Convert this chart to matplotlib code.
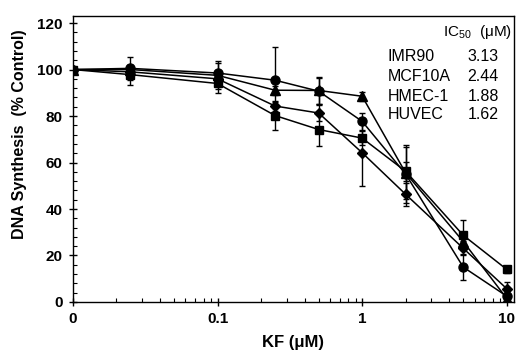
import matplotlib
matplotlib.use("Agg")
import matplotlib.pyplot as plt
from matplotlib.ticker import FixedLocator, NullFormatter, MultipleLocator

plt.rcParams['font.family'] = ['Liberation Sans', 'DejaVu Sans']
plt.rcParams['mathtext.fontset'] = 'custom'
plt.rcParams['mathtext.rm'] = 'Liberation Sans'

# KF concentration (uM); the control "0" is drawn at 0.01 on the log axis
kf = [0.01, 0.025, 0.1, 0.25, 0.5, 1, 2, 5, 10]

circle_y = [100, 100.5, 98.5, 95.4, 90.7, 77.7, 55.0, 15.0, 2.5]
circle_err = [0, 5.0, 4.5, 14.4, 5.7, 3.5, 12.5, 5.5, 1.0]
triangle_y = [100, 100.0, 97.5, 91.1, 91.0, 88.5, 55.5, 26.0, 1.5]
triangle_err = [0, 2.0, 6.0, 2.0, 5.7, 2.0, 11.0, 2.0, 1.0]
diamond_y = [100, 99.0, 96.0, 84.3, 81.3, 64.2, 46.3, 23.1, 5.7]
diamond_err = [0, 2.0, 2.0, 2.0, 3.6, 14.5, 5.0, 3.0, 3.0]
square_y = [100, 97.8, 94.0, 80.2, 74.2, 70.5, 56.2, 28.7, 14.0]
square_err = [0, 4.3, 4.0, 6.0, 7.0, 3.0, 4.0, 6.5, 1.5]

cell_lines = ['IMR90', 'MCF10A', 'HMEC-1', 'HUVEC']
ic50 = ['3.13', '2.44', '1.88', '1.62']

fig = plt.figure(figsize=(5.17, 3.53), dpi=100)
ax = fig.add_axes([0.141, 0.1445, 0.853, 0.81])

series = [
    (triangle_y, triangle_err, '^', 7),
    (circle_y, circle_err, 'o', 6.5),
    (diamond_y, diamond_err, 'D', 5.5),
    (square_y, square_err, 's', 6),
]
for y, e, m, ms in series:
    ax.errorbar(kf, y, yerr=e, fmt='-', marker=m, color='black', ms=ms,
                lw=1.1, elinewidth=1.0, capsize=2.5, capthick=1.0)

ax.set_xscale('log')
ax.set_xlim(0.01, 11.2)
ax.set_ylim(0, 123)

ax.xaxis.set_major_locator(FixedLocator([0.01, 0.1, 1, 10]))
ax.set_xticklabels(['0', '0.1', '1', '10'])
minors = [m * d for d in (0.01, 0.1, 1) for m in range(2, 10)]
ax.xaxis.set_minor_locator(FixedLocator(minors))
ax.xaxis.set_minor_formatter(NullFormatter())
ax.yaxis.set_major_locator(MultipleLocator(20))
ax.yaxis.set_minor_locator(MultipleLocator(4))

ax.tick_params(which='major', direction='inout', length=6, width=1, labelsize=11, pad=4.5)
ax.tick_params(which='minor', direction='in', length=3, width=0.8)
for lab in ax.get_xticklabels() + ax.get_yticklabels():
    lab.set_fontweight('bold')
for s in ax.spines.values():
    s.set_linewidth(1.0)

ax.set_xlabel('KF (μM)', fontsize=12, fontweight='bold', labelpad=6)
fig.text(20 / 517, 1 - 134 / 353, 'DNA Synthesis  (% Control)', rotation=90,
         fontsize=11.5, fontweight='bold', ha='center', va='center')

ax.text(0.995, 0.944, r'IC$_{\mathrm{50}}$  (μM)', transform=ax.transAxes,
        fontsize=11, ha='right', va='center')
rows_y = [0.857, 0.787, 0.720, 0.654]
for name, val, yy in zip(cell_lines, ic50, rows_y):
    ax.text(0.714, yy, name, transform=ax.transAxes, fontsize=11.5, ha='left', va='center')
    ax.text(0.966, yy, val, transform=ax.transAxes, fontsize=11.5, ha='right', va='center')

fig.savefig('out.png', dpi=100)
